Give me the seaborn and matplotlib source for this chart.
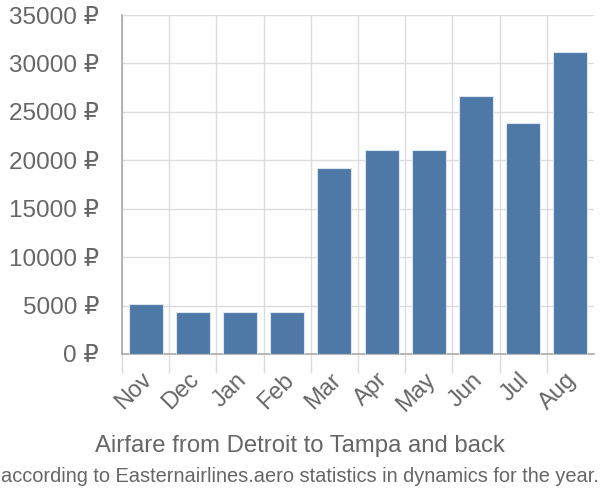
import matplotlib
matplotlib.use("Agg")
import matplotlib.pyplot as plt
import matplotlib.transforms as mtransforms
from matplotlib import font_manager
import seaborn as sns
import pandas as pd
import numpy as np

months = ["Nov", "Dec", "Jan", "Feb", "Mar", "Apr", "May", "Jun", "Jul", "Aug"]
prices = [5200, 4300, 4300, 4300, 19200, 21050, 21050, 26650, 23800, 31200]
yticks = [0, 5000, 10000, 15000, 20000, 25000, 30000, 35000]
title = "Airfare from Detroit to Tampa and back"
subtitle = "according to Easternairlines.aero statistics in dynamics for the year."

sns.set_theme(style="white")
plt.rcParams['font.family'] = ['Liberation Sans', 'DejaVu Sans']

df = pd.DataFrame({"month": months, "price": prices})

fig = plt.figure(figsize=(6, 5), dpi=100)
ax = fig.add_axes([122/600, 1-354/500, (594-122)/600, (354-15)/500])

sns.barplot(data=df, x="month", y="price", color="#4e79a7", saturation=1,
            width=0.72, edgecolor="#dbe4ee", linewidth=0.8, ax=ax, zorder=3)

grid_c = "#dcdcdc"
text_c = "#666666"
ax.set_xlim(-0.5, len(months) - 0.5)
ax.set_ylim(0, 35000)
ax.set_yticks(yticks)
ax.set_yticklabels([f"{v} ₽" for v in yticks])
ax.yaxis.grid(True, color=grid_c, linewidth=1, zorder=0)
ax.set_xticks(np.arange(len(months)) - 0.5, minor=True)
ax.xaxis.grid(True, which="minor", color=grid_c, linewidth=1, zorder=0)
ax.set_axisbelow(True)
ax.tick_params(axis="y", length=16, color=grid_c, width=1, labelsize=17.5, labelcolor=text_c, pad=0.5)
ax.tick_params(axis="x", which="major", length=0, labelsize=17, labelcolor=text_c, pad=4)
ax.tick_params(axis="x", which="minor", length=14, color=grid_c, width=1, bottom=True)
offset = mtransforms.ScaledTranslation(3/100, -17/100, fig.dpi_scale_trans)
for lab in ax.get_xticklabels():
    lab.set_rotation(45)
    lab.set_ha("right")
    lab.set_va("center")
    lab.set_rotation_mode("anchor")
    lab.set_transform(lab.get_transform() + offset)

ax.set_xlabel("")
ax.set_ylabel("")
for s in ["top", "right"]:
    ax.spines[s].set_visible(False)
ax.spines["left"].set_color("#aaaaaa")
ax.spines["bottom"].set_color("#aaaaaa")
ax.spines["left"].set_linewidth(1.2)
ax.spines["bottom"].set_linewidth(1.2)

fig.text(0.5, 1-446/500, title, ha="center", va="center", fontsize=17.2, color=text_c)

names = {f.name for f in font_manager.fontManager.ttflist}
if "Liberation Sans Narrow" in names:
    fig.text(0.5, 1-477/500, subtitle, ha="center", va="center", fontsize=17.5, color=text_c,
             family=['Liberation Sans Narrow', 'DejaVu Sans'])
else:
    fig.text(0.5, 1-477/500, subtitle, ha="center", va="center", fontsize=14.4, color=text_c)

fig.savefig("out.png", dpi=100)
